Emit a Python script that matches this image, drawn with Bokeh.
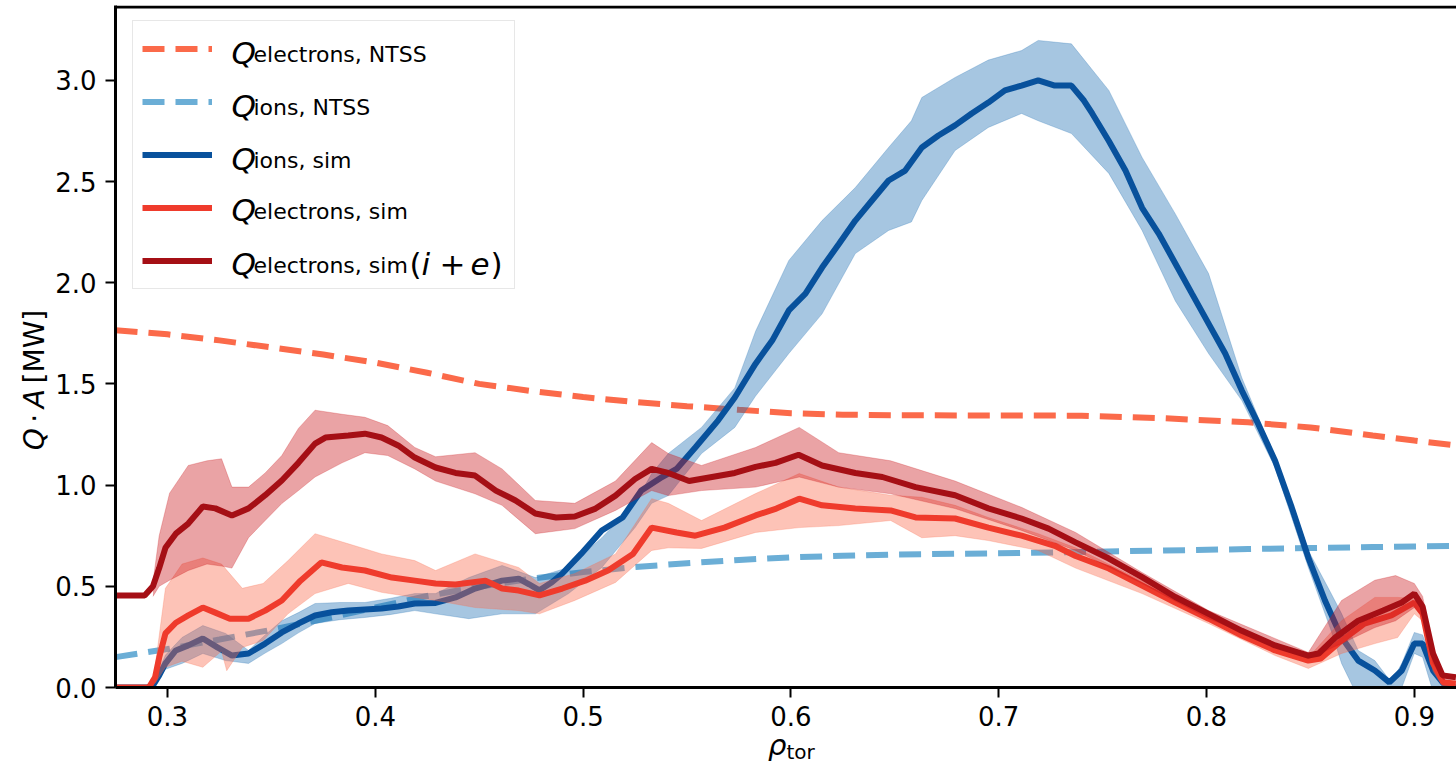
from bokeh.plotting import figure
from bokeh.models import (Range1d, FixedTicker, PrintfTickFormatter, Span, Label,
                          Legend, LegendItem, Div)
from bokeh.layouts import row, column
from bokeh.embed import file_html
from bokeh.resources import INLINE

# ---------------- data ----------------
# NTSS reference profiles
ntss_x = [0.275, 0.30, 0.325, 0.35, 0.375, 0.40, 0.425, 0.45, 0.475, 0.50, 0.525, 0.55,
          0.575, 0.60, 0.625, 0.65, 0.70, 0.74, 0.78, 0.82, 0.85, 0.88, 0.90, 0.92]
qe_ntss = [1.765, 1.745, 1.715, 1.68, 1.645, 1.605, 1.555, 1.50, 1.465, 1.435, 1.41, 1.39,
           1.372, 1.355, 1.348, 1.345, 1.344, 1.343, 1.33, 1.31, 1.285, 1.245, 1.22, 1.196]
qi_ntss = [0.150, 0.190, 0.237, 0.285, 0.338, 0.395, 0.452, 0.498, 0.537, 0.570, 0.595, 0.614,
           0.630, 0.643, 0.651, 0.657, 0.663, 0.670, 0.677, 0.684, 0.689, 0.694, 0.697, 0.700]

# ions, simulation
qi_x = [0.275, 0.290, 0.293, 0.296, 0.299, 0.304, 0.310, 0.317, 0.324, 0.331, 0.339, 0.347,
        0.355, 0.363, 0.371, 0.379, 0.387, 0.395, 0.403, 0.411, 0.419, 0.429, 0.4386, 0.448,
        0.455, 0.461, 0.469, 0.474, 0.479, 0.485, 0.490, 0.499, 0.509, 0.519, 0.528, 0.538,
        0.545, 0.554, 0.565, 0.573, 0.578, 0.583, 0.591, 0.599, 0.607, 0.615, 0.623, 0.631,
        0.639, 0.647, 0.655, 0.663, 0.671, 0.679, 0.687, 0.695, 0.703, 0.711, 0.719, 0.727,
        0.735, 0.741, 0.745, 0.753, 0.761, 0.769, 0.777, 0.785, 0.793, 0.801, 0.809, 0.817,
        0.825, 0.833, 0.841, 0.849, 0.857, 0.865, 0.873, 0.881, 0.888, 0.894, 0.900, 0.904,
        0.909, 0.914, 0.920]
qi_sim = [0.0, 0.0, 0.01, 0.06, 0.119, 0.183, 0.208, 0.242, 0.198, 0.158, 0.168, 0.217,
          0.272, 0.316, 0.356, 0.372, 0.380, 0.385, 0.390, 0.400, 0.415, 0.418, 0.445, 0.489,
          0.510, 0.528, 0.538, 0.510, 0.480, 0.520, 0.563, 0.660, 0.776, 0.840, 0.973, 1.040,
          1.080, 1.186, 1.320, 1.433, 1.517, 1.600, 1.714, 1.863, 1.946, 2.075, 2.190, 2.307,
          2.406, 2.505, 2.554, 2.668, 2.727, 2.777, 2.836, 2.890, 2.950, 2.974, 3.000, 2.974,
          2.974, 2.900, 2.836, 2.700, 2.554, 2.370, 2.243, 2.095, 1.946, 1.798, 1.650, 1.467,
          1.300, 1.120, 0.890, 0.642, 0.430, 0.247, 0.133, 0.084, 0.025, 0.084, 0.217, 0.217,
          0.084, 0.020, 0.0]

qi_band_x = [0.293, 0.299, 0.307, 0.317, 0.328, 0.339, 0.347, 0.355, 0.363, 0.371, 0.383, 0.395,
             0.407, 0.419, 0.429, 0.445, 0.461, 0.477, 0.493, 0.509, 0.525, 0.533, 0.541, 0.557,
             0.573, 0.583, 0.599, 0.615, 0.631, 0.647, 0.658, 0.663, 0.679, 0.695, 0.711, 0.719,
             0.735, 0.753, 0.769, 0.785, 0.801, 0.817, 0.833, 0.849, 0.860, 0.865, 0.873, 0.881,
             0.889, 0.894, 0.900, 0.904, 0.909, 0.914, 0.920]
qi_lo = [0.0, 0.09, 0.119, 0.168, 0.133, 0.119, 0.170, 0.217, 0.270, 0.316, 0.335, 0.346,
         0.360, 0.380, 0.364, 0.340, 0.364, 0.364, 0.464, 0.593, 0.790, 0.910, 0.948, 1.156,
         1.285, 1.440, 1.650, 1.846, 2.144, 2.258, 2.300, 2.406, 2.653, 2.767, 2.836, 2.800,
         2.737, 2.540, 2.258, 1.910, 1.650, 1.418, 1.087, 0.593, 0.280, 0.119, -0.05, -0.05,
         -0.05, 0.0, 0.168, 0.150, -0.02, -0.02, 0.0]
qi_hi = [0.02, 0.16, 0.247, 0.306, 0.267, 0.183, 0.260, 0.330, 0.370, 0.415, 0.420, 0.420,
         0.440, 0.464, 0.464, 0.543, 0.603, 0.543, 0.593, 0.740, 0.910, 1.057, 1.156, 1.285,
         1.480, 1.760, 2.110, 2.307, 2.470, 2.668, 2.800, 2.915, 3.014, 3.100, 3.147, 3.197,
         3.180, 2.950, 2.619, 2.340, 2.045, 1.530, 1.136, 0.677, 0.464, 0.365, 0.183, 0.133,
         0.025, 0.120, 0.272, 0.260, 0.119, 0.040, 0.0]

# electrons, simulation
qe_x = [0.275, 0.291, 0.294, 0.296, 0.299, 0.304, 0.310, 0.317, 0.323, 0.330, 0.339, 0.347,
        0.355, 0.364, 0.374, 0.384, 0.395, 0.408, 0.419, 0.429, 0.4386, 0.453, 0.461, 0.469,
        0.479, 0.490, 0.501, 0.512, 0.524, 0.533, 0.545, 0.554, 0.568, 0.583, 0.593, 0.604,
        0.615, 0.631, 0.648, 0.660, 0.679, 0.695, 0.711, 0.727, 0.737, 0.753, 0.769, 0.785,
        0.801, 0.817, 0.833, 0.849, 0.855, 0.865, 0.876, 0.889, 0.900, 0.904, 0.909, 0.914,
        0.920]
qe_sim = [0.0, 0.0, 0.05, 0.148, 0.267, 0.320, 0.356, 0.395, 0.370, 0.340, 0.340, 0.380,
          0.430, 0.528, 0.618, 0.593, 0.578, 0.543, 0.528, 0.514, 0.509, 0.528, 0.489, 0.479,
          0.455, 0.489, 0.528, 0.578, 0.660, 0.790, 0.766, 0.750, 0.790, 0.850, 0.884, 0.933,
          0.900, 0.884, 0.875, 0.840, 0.835, 0.790, 0.750, 0.700, 0.650, 0.588, 0.504, 0.420,
          0.340, 0.257, 0.183, 0.133, 0.143, 0.232, 0.316, 0.356, 0.420, 0.364, 0.119, 0.025,
          0.020]

qe_band_x = [0.294, 0.299, 0.307, 0.317, 0.326, 0.3285, 0.336, 0.346, 0.358, 0.371, 0.387,
             0.403, 0.419, 0.429, 0.448, 0.469, 0.479, 0.496, 0.5156, 0.533, 0.541, 0.557,
             0.583, 0.604, 0.623, 0.648, 0.663, 0.679, 0.695, 0.719, 0.737, 0.769, 0.801,
             0.833, 0.849, 0.865, 0.881, 0.892, 0.900, 0.904, 0.909, 0.914, 0.920]
qe_lo = [0.02, 0.10, 0.13, 0.10, 0.18, 0.083, 0.198, 0.232, 0.364, 0.464, 0.514, 0.470, 0.445,
         0.430, 0.395, 0.380, 0.364, 0.430, 0.519, 0.677, 0.690, 0.687, 0.766, 0.790, 0.800,
         0.825, 0.740, 0.750, 0.726, 0.677, 0.590, 0.464, 0.316, 0.158, 0.094, 0.168, 0.217,
         0.247, 0.364, 0.330, 0.080, 0.0, 0.0]
qe_hi = [0.10, 0.49, 0.61, 0.64, 0.61, 0.58, 0.49, 0.514, 0.627, 0.760, 0.710, 0.660, 0.627,
         0.578, 0.660, 0.593, 0.514, 0.563, 0.660, 0.933, 0.910, 0.825, 0.958, 1.057, 0.990,
         0.950, 0.940, 0.900, 0.840, 0.760, 0.690, 0.528, 0.356, 0.208, 0.148, 0.330, 0.445,
         0.445, 0.440, 0.400, 0.150, 0.040, 0.020]

# electrons, simulation (i+e)
qie_x = [0.275, 0.289, 0.293, 0.296, 0.299, 0.304, 0.310, 0.317, 0.323, 0.331, 0.339, 0.347,
         0.355, 0.363, 0.371, 0.376, 0.387, 0.395, 0.403, 0.411, 0.419, 0.429, 0.4386, 0.448,
         0.458, 0.4675, 0.477, 0.487, 0.496, 0.506, 0.5156, 0.525, 0.533, 0.541, 0.551, 0.562,
         0.573, 0.583, 0.5926, 0.6037, 0.615, 0.631, 0.644, 0.660, 0.679, 0.695, 0.711, 0.724,
         0.737, 0.753, 0.769, 0.785, 0.801, 0.817, 0.833, 0.849, 0.854, 0.862, 0.873, 0.885,
         0.894, 0.900, 0.904, 0.909, 0.9136, 0.920]
qie_sim = [0.455, 0.455, 0.50, 0.59, 0.69, 0.76, 0.81, 0.894, 0.885, 0.850, 0.885, 0.950,
           1.023, 1.110, 1.205, 1.235, 1.245, 1.254, 1.235, 1.196, 1.136, 1.087, 1.060, 1.047,
           0.973, 0.924, 0.860, 0.840, 0.845, 0.884, 0.948, 1.030, 1.080, 1.060, 1.020, 1.040,
           1.060, 1.090, 1.110, 1.150, 1.097, 1.060, 1.040, 0.990, 0.950, 0.885, 0.835, 0.785,
           0.717, 0.637, 0.545, 0.447, 0.364, 0.280, 0.208, 0.158, 0.168, 0.247, 0.330, 0.380,
           0.420, 0.464, 0.400, 0.168, 0.060, 0.050]

qie_band_x = [0.293, 0.296, 0.301, 0.310, 0.319, 0.326, 0.331, 0.339, 0.347, 0.355, 0.363,
              0.371, 0.384, 0.395, 0.406, 0.419, 0.429, 0.448, 0.461, 0.477, 0.496, 0.5156,
              0.533, 0.541, 0.557, 0.583, 0.604, 0.623, 0.648, 0.679, 0.711, 0.737, 0.769,
              0.801, 0.849, 0.865, 0.881, 0.891, 0.900, 0.904, 0.909, 0.914, 0.920]
qie_lo = [0.45, 0.50, 0.53, 0.578, 0.61, 0.60, 0.59, 0.74, 0.825, 0.909, 0.973, 1.04, 1.11,
          1.16, 1.146, 1.08, 1.02, 0.957, 0.90, 0.76, 0.785, 0.875, 0.973, 0.948, 0.973, 0.99,
          1.04, 0.99, 0.957, 0.884, 0.776, 0.677, 0.514, 0.34, 0.143, 0.217, 0.296, 0.33,
          0.395, 0.35, 0.12, 0.04, 0.04]
qie_hi = [0.52, 0.75, 0.96, 1.097, 1.12, 1.13, 0.99, 0.99, 1.06, 1.146, 1.28, 1.37, 1.35,
          1.335, 1.294, 1.186, 1.14, 1.16, 1.08, 0.924, 0.91, 1.02, 1.21, 1.156, 1.097, 1.186,
          1.285, 1.16, 1.12, 1.02, 0.89, 0.766, 0.568, 0.38, 0.173, 0.43, 0.53, 0.553, 0.514,
          0.45, 0.20, 0.07, 0.06]

x_ticks = [0.3, 0.4, 0.5, 0.6, 0.7, 0.8, 0.9]
y_ticks = [0.0, 0.5, 1.0, 1.5, 2.0, 2.5, 3.0]

# ---------------- layout constants (page pixels) ----------------
FONT = "DejaVu Sans"
YDIV_W = 52
FRAME_L = 115
FRAME_T = 5
FRAME_B = 687
PX_X = 2078.0
PX_Y = 202.4
FIG_W = 1456 - YDIV_W
FIG_H = 730
XDIV_H = 763 - FIG_H

x0 = 0.3 - (167 - FRAME_L) / PX_X
x1 = 0.3 + (1456 - 167) / PX_X
y1 = (FRAME_B - FRAME_T) / PX_Y

p = figure(width=FIG_W, height=FIG_H, output_backend="svg", toolbar_location=None,
           x_range=Range1d(x0, x1), y_range=Range1d(0, y1),
           min_border_left=FRAME_L - YDIV_W, min_border_bottom=FIG_H - FRAME_B,
           min_border_top=FRAME_T, min_border_right=0, margin=(0, 0, 0, 0))
p.outline_line_color = None
p.xgrid.visible = False
p.ygrid.visible = False
p.background_fill_color = "white"
p.border_fill_color = "white"

C_E_NTSS = "#fb6a4a"
C_I_NTSS = "#6baed6"
C_I_SIM = "#08519c"
C_E_SIM = "#ef3b2c"
C_IE_SIM = "#a50f15"
LW = 6

r_e_ntss = p.line(ntss_x, qe_ntss, line_color=C_E_NTSS, line_width=LW, line_dash="22 11")
r_i_ntss = p.line(ntss_x, qi_ntss, line_color=C_I_NTSS, line_width=LW, line_dash="22 11")

p.varea(qi_band_x, qi_lo, qi_hi, fill_color="#2171b5", fill_alpha=0.4)
p.line(qi_band_x, qi_lo, line_color="#2171b5", line_alpha=0.25, line_width=1)
p.line(qi_band_x, qi_hi, line_color="#2171b5", line_alpha=0.25, line_width=1)
r_i_sim = p.line(qi_x, qi_sim, line_color=C_I_SIM, line_width=LW)

p.varea(qe_band_x, qe_lo, qe_hi, fill_color="#fb6a4a", fill_alpha=0.4)
p.line(qe_band_x, qe_lo, line_color="#fb6a4a", line_alpha=0.25, line_width=1)
p.line(qe_band_x, qe_hi, line_color="#fb6a4a", line_alpha=0.25, line_width=1)
r_e_sim = p.line(qe_x, qe_sim, line_color=C_E_SIM, line_width=LW)

p.varea(qie_band_x, qie_lo, qie_hi, fill_color="#cb181d", fill_alpha=0.4)
p.line(qie_band_x, qie_lo, line_color="#cb181d", line_alpha=0.25, line_width=1)
p.line(qie_band_x, qie_hi, line_color="#cb181d", line_alpha=0.25, line_width=1)
r_ie_sim = p.line(qie_x, qie_sim, line_color=C_IE_SIM, line_width=LW)

# top spine
p.add_layout(Span(location=y1 - 1.5 / PX_Y, dimension="width", line_color="black",
                  line_width=3))

# axes
for ax in (p.xaxis[0], p.yaxis[0]):
    ax.axis_line_width = 3
    ax.axis_line_color = "black"
    ax.major_tick_line_width = 2
    ax.major_tick_line_color = "black"
    ax.major_tick_out = 10
    ax.major_tick_in = 0
    ax.minor_tick_line_color = None
    ax.major_label_text_font = FONT
    ax.major_label_text_font_size = "26px"
    ax.major_label_text_color = "black"
    ax.formatter = PrintfTickFormatter(format="%.1f")
p.xaxis[0].ticker = FixedTicker(ticks=x_ticks)
p.yaxis[0].ticker = FixedTicker(ticks=y_ticks)
p.xaxis[0].major_label_standoff = 8
p.yaxis[0].major_label_standoff = 9

Y_FIX = 11  # baseline correction for labels


def lab(text, px, py, size, italic=False):
    p.add_layout(Label(x=px - FRAME_L, y=FRAME_B - py + Y_FIX, x_units="screen",
                       y_units="screen", text=text, text_font=FONT,
                       text_font_size=f"{size}px",
                       text_font_style="italic" if italic else "normal",
                       text_color="black", text_baseline="alphabetic", text_align="left",
                       level="overlay"))


# legend (samples from renderers, texts as labels); no data lies under the box
items = [LegendItem(label=" ", renderers=[r]) for r in
         (r_e_ntss, r_i_ntss, r_i_sim, r_e_sim, r_ie_sim)]
LEG_H = 2 * 9 + 5 * 37 + 4 * 16
legend = Legend(items=items, location=(132 - FRAME_L, FRAME_B - 22 - LEG_H),
                padding=9, spacing=16, glyph_width=70, glyph_height=37, label_height=37,
                label_width=283, label_standoff=10, margin=0,
                border_line_color="#d0d0d0", border_line_width=1,
                background_fill_color=None,
                label_text_font_size="8px")
p.add_layout(legend)

row_base = [63, 116, 169, 220, 274]
subs = ["electrons, NTSS", "ions, NTSS", "ions, sim", "electrons, sim", "electrons, sim"]
for b, s in zip(row_base, subs):
    lab("Q", 231, b, 31, italic=True)
    lab(s, 253, b + 2, 22)
lab("(", 409, 274, 31)
lab("i", 421, 274, 31, italic=True)
lab("+", 439, 274, 31)
lab("e", 470, 274, 31, italic=True)
lab(")", 490, 274, 31)

# axis titles as HTML text beside / below the figure
ydiv = Div(width=YDIV_W, height=763, margin=(0, 0, 0, 0), text=(
    '<div style="position:relative;width:%dpx;height:763px;">'
    '<div style="position:absolute;left:35px;top:380px;'
    'transform:translate(-50%%,-50%%) rotate(-90deg);white-space:nowrap;'
    "font-family:'DejaVu Sans';font-size:28px;line-height:1;color:black;\">"
    '<i>Q</i>&#8201;&#183;&#8201;<i>A</i>&#8201;[MW]</div></div>') % YDIV_W)

xdiv = Div(width=FIG_W, height=XDIV_H, margin=(0, 0, 0, 0), text=(
    '<div style="position:relative;width:%dpx;height:%dpx;">'
    '<div style="position:absolute;left:%dpx;top:4px;white-space:nowrap;'
    "font-family:'DejaVu Sans';font-size:29px;line-height:22px;color:black;\">"
    '<i>&#961;</i><span style="font-size:20px;position:relative;top:4px;">tor</span>'
    '</div></div>') % (FIG_W, XDIV_H, 768 - YDIV_W))

layout = row(ydiv, column(p, xdiv, spacing=0), spacing=0)
open("out.html", "w").write(file_html(layout, INLINE))
